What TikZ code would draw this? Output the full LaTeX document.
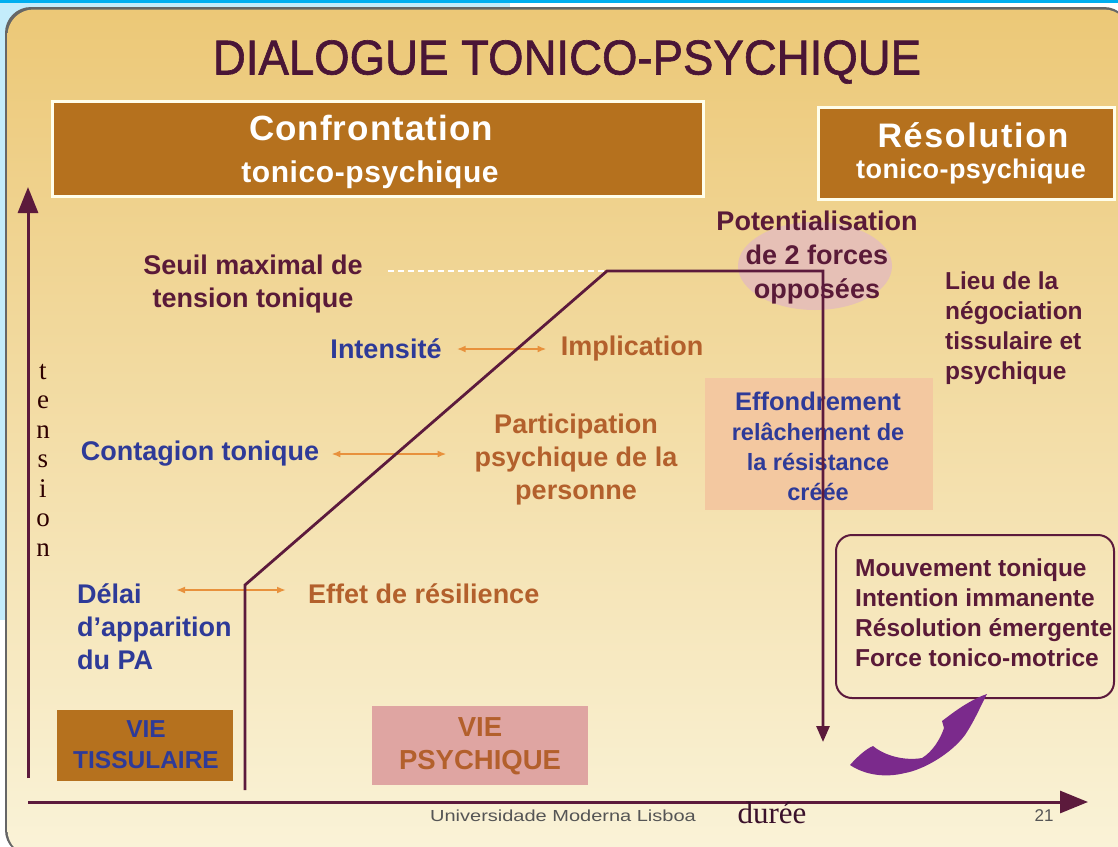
\documentclass[tikz,border=0pt]{standalone}
\usepackage{fontspec}
\setmainfont{Liberation Sans}
\newfontfamily\seriffam{Liberation Serif}
\newfontfamily\titlefont[FakeBold=1.3]{Liberation Sans}
\usetikzlibrary{arrows.meta,shapes.geometric}
\definecolor{axiscol}{HTML}{5C1A3C}
\definecolor{titlecol}{HTML}{4A1536}
\definecolor{maroontxt}{HTML}{5A1A38}
\definecolor{bluetxt}{HTML}{2E3A98}
\definecolor{orangetxt}{HTML}{B3602C}
\definecolor{arrorange}{HTML}{E8913C}
\definecolor{brownbox}{HTML}{B5711E}
\definecolor{pinkbox}{HTML}{DFA5A2}
\definecolor{peachbox}{HTML}{F3C8A0}
\definecolor{ellcol}{HTML}{E6C0B6}
\definecolor{purplearr}{HTML}{7B2A8C}
\definecolor{lightblue}{HTML}{C4ECFB}
\definecolor{cyanline}{HTML}{00AEEF}
\definecolor{bgtop}{HTML}{ECC877}
\definecolor{bgmid}{HTML}{F4DC9E}
\definecolor{bgbot}{HTML}{FAF3D8}
\definecolor{graytxt}{HTML}{555555}
\tikzset{
  axisline/.style={draw=axiscol, line width=3},
  lbl/.style={font=\bfseries\fontsize{27}{33}\selectfont, inner sep=0pt, align=center},
  lblsmall/.style={font=\bfseries\fontsize{24.5}{30}\selectfont, inner sep=0pt},
  dblarrow/.style={draw=arrorange, line width=1.8, {Latex[length=9,width=7]}-{Latex[length=9,width=7]}},
  headbox/.style={fill=brownbox, draw=white!92!yellow, line width=3, inner sep=0pt},
}
\begin{document}
\begin{tikzpicture}[x=1pt,y=-1pt]
\useasboundingbox (0,0) rectangle (1118,846);
% screen background
\fill[white] (0,0) rectangle (1118,846);
\fill[lightblue] (0,0) rectangle (510,620);
\fill[cyanline] (0,0) rectangle (1118,2.5);
% slide
\fill[black!60, rounded corners=26] (5,7) rectangle (1130,856);
\shade[rounded corners=26, top color=bgtop, middle color=bgmid, bottom color=bgbot] (7.5,9.5) rectangle (1130,856);

% title
\node[inner sep=0pt, text=titlecol] (title) at (567,62)
  {\scalebox{0.93}[1]{\titlefont\fontsize{49}{50}\selectfont DIALOGUE TONICO-PSYCHIQUE}};

% header boxes
\node[headbox, minimum width=651, minimum height=95] (conf) at (377.5,148.5) {};
\node[text=white, font=\bfseries\fontsize{35}{35}\selectfont\addfontfeature{LetterSpace=3}, inner sep=0pt] (conft1) at (371,128) {Confrontation};
\node[text=white, font=\bfseries\fontsize{30}{30}\selectfont\addfontfeature{LetterSpace=2}, inner sep=0pt] (conft2) at (370,175) {tonico-psychique};
\node[headbox, minimum width=296, minimum height=92] (reso) at (966,153) {};
\node[text=white, font=\bfseries\fontsize{34}{34}\selectfont\addfontfeature{LetterSpace=5}, inner sep=0pt] (resot1) at (973,135) {Résolution};
\node[text=white, font=\bfseries\fontsize{27}{27}\selectfont\addfontfeature{LetterSpace=1.5}, inner sep=0pt] (resot2) at (971,172) {tonico-psychique};

% axes
\coordinate (yb) at (28,778);
\coordinate (yt) at (28,187);
\coordinate (xl) at (28,802);
\coordinate (xr) at (1088,802);
\draw[axisline, -{Triangle[length=26,width=20]}] (yb) -- (yt);
\draw[axisline, -{Triangle[length=28,width=22]}] (xl) -- (xr);

\node[font=\seriffam\fontsize{27}{29.5}\selectfont, text=black!70!red!60!black, align=center, inner sep=0pt] (tension) at (43,460)
  {t\\e\\n\\s\\i\\o\\n};
\node[font=\seriffam\fontsize{31}{31}\selectfont, text=titlecol!80!black, inner sep=0pt] (duree) at (772,813) {durée};
\node[font=\fontsize{16}{16}\selectfont, text=graytxt, inner sep=0pt] (univ) at (563,816)
  {\scalebox{1.25}[1]{Universidade Moderna Lisboa}};
\node[font=\fontsize{17}{17}\selectfont, text=graytxt, inner sep=0pt] (pagenum) at (1044,816) {21};

% ellipse and effondrement box
\node[ellipse, fill=ellcol, minimum width=154, minimum height=88, inner sep=0pt] (ell) at (815,266) {};
\node[fill=peachbox, minimum width=228, minimum height=132, inner sep=0pt] (effbox) at (819,444) {};

% bottom boxes
\node[fill=brownbox, minimum width=176, minimum height=71, inner sep=0pt] (viet) at (145,745.5) {};
\node[lbl, text=bluetxt, font=\bfseries\fontsize{24.5}{31}\selectfont] (vietxt) at (146,745) {VIE\\TISSULAIRE};
\node[fill=pinkbox, minimum width=216, minimum height=79, inner sep=0pt] (viep) at (480,745.5) {};
\node[lbl, text=orangetxt, font=\bfseries\fontsize{27.5}{33}\selectfont] (vieptxt) at (480,746) {VIE\\PSYCHIQUE};

% dashed threshold line
\coordinate (dashstart) at (388,271);
\coordinate (c2) at (607,271);
\draw[white, line width=1.5, dash pattern=on 6pt off 4pt] (dashstart) -- (c2);

% labels
\node[lbl, text=maroontxt] (seuil) at (253,284.5) {Seuil maximal de\\tension tonique};
\node[lbl, text=maroontxt, font=\bfseries\fontsize{27}{34}\selectfont] (pot) at (817,258) {Potentialisation\\de 2 forces\\opposées};
\node[lblsmall, text=maroontxt, align=left, anchor=west] (lieu) at (945,328) {Lieu de la\\négociation\\tissulaire et\\psychique};

\node[lbl, text=bluetxt] (intens) at (386,349) {Intensité};
\node[lbl, text=orangetxt] (implic) at (632,349) {Implication};
\draw[dblarrow] ([xshift=15pt]intens.east) -- ([xshift=-14pt]implic.west);

\node[lbl, text=bluetxt] (contag) at (200,454) {Contagion tonique};
\node[lbl, text=orangetxt] (partic) at (576,460) {Participation\\psychique de la\\personne};
\draw[dblarrow] ([xshift=12pt]contag.east) -- ([xshift=-28pt]partic.west |- contag.east);

\node[lbl, text=bluetxt, align=left, anchor=west] (delai) at (77,627) {Délai\\d’apparition\\du PA};
\node[lbl, text=orangetxt, anchor=west] (effet) at (308,594) {Effet de résilience};
\coordinate (delaiR) at (176,590);
\coordinate (effetL) at (286,590);
\draw[dblarrow] (delaiR) -- (effetL);

\node[lbl, text=bluetxt, font=\bfseries\fontsize{25.5}{30}\selectfont] (efftxt) at (818,446)
  {Effondrement\\{\fontsize{23.5}{30}\selectfont relâchement de}\\{\fontsize{23.5}{30}\selectfont la résistance}\\{\fontsize{23.5}{30}\selectfont créée}};

% mouvement box
\node[draw=axiscol, line width=2, rounded corners=16, minimum width=278, minimum height=163, inner sep=0pt] (mbox) at (975,616.5) {};
\node[lblsmall, text=maroontxt, align=left, anchor=west] (mtxt) at (855,613)
  {Mouvement tonique\\Intention immanente\\Résolution émergente\\Force tonico-motrice};

% main curve
\coordinate (c0) at (245,790);
\coordinate (c1) at (245,585);
\coordinate (c3) at (823,271);
\coordinate (c4) at (823,742);
\draw[axisline, line width=2.8, line join=miter, -{Triangle[length=16,width=13]}] (c0) -- (c1) -- (c2) -- (c3) -- (c4);

% purple curved arrow
\coordinate (ptail) at (850,765);
\coordinate (ptip) at (987,694);
\fill[purplearr] (ptail) .. controls (858,756) and (866,749) .. (873,746)
  .. controls (885,756) and (905,761) .. (922,758)
  .. controls (932,752) and (940,740) .. (944,728)
  -- (942,721) -- (950,715)
  .. controls (962,706) and (975,698) .. (ptip)
  .. controls (981,705) and (975,720) .. (965,735)
  .. controls (950,755) and (922,770) .. (905,773)
  .. controls (885,778) and (865,775) .. (ptail) -- cycle;
\end{tikzpicture}
\end{document}
